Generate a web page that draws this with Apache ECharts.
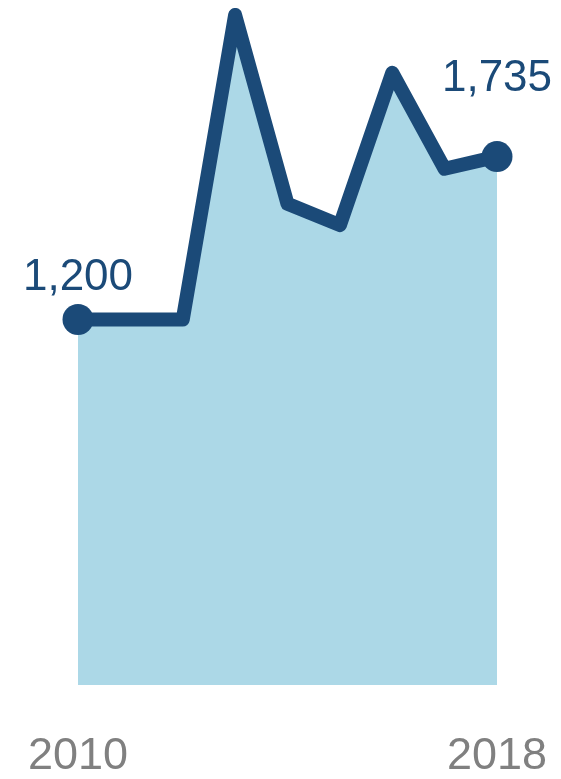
<!DOCTYPE html>
<html>
<head>
<meta charset="utf-8">
<script src="https://cdn.jsdelivr.net/npm/echarts@6/dist/echarts.min.js"></script>
<style>
  html, body { margin: 0; padding: 0; background: #ffffff; }
  #chart { width: 561px; height: 779px; }
</style>
</head>
<body>
<div id="chart"></div>
<script>
// Yearly values, 2010 to 2018
const years = ['2010', '2011', '2012', '2013', '2014', '2015', '2016', '2017', '2018'];
const values = [1200, 1200, 1200, 2200, 1580, 1510, 2010, 1695, 1735];
// Only the first and last year get a marker, a value label and an axis label
const labelledYears = ['2010', '2018'];

const LINE = '#1b4a78';
const FILL = '#acd8e7';

function withCommas(n) {
  return String(n).replace(/\B(?=(\d{3})+(?!\d))/g, ',');
}

const lastIdx = years.length - 1;
const seriesData = values.map(function (v, i) {
  const item = { value: v };
  if (i === 0 || i === lastIdx) {
    item.symbol = 'circle';
    item.symbolSize = 31;
    item.label = {
      show: true,
      position: 'top',
      distance: i === 0 ? 4 : 40,
      formatter: function (p) { return withCommas(p.value); }
    };
  } else {
    item.symbol = 'none';
  }
  return item;
});

const chart = echarts.init(document.getElementById('chart'), null, { renderer: 'canvas' });
chart.setOption({
  animation: false,
  backgroundColor: '#ffffff',
  grid: { left: 78, right: 64, top: 15, bottom: 90, containLabel: false },
  xAxis: {
    type: 'category',
    data: years,
    boundaryGap: false,
    axisLine: { show: false },
    axisTick: { show: false },
    splitLine: { show: false },
    axisLabel: {
      interval: 0,
      margin: 49,
      color: '#808080',
      fontFamily: 'Liberation Sans, Arial, sans-serif',
      fontSize: 45,
      formatter: function (v) { return labelledYears.indexOf(v) >= 0 ? v : ''; }
    }
  },
  yAxis: {
    type: 'value',
    min: 0,
    max: 2200,
    show: false
  },
  series: [{
    type: 'line',
    data: seriesData,
    showAllSymbol: true,
    lineStyle: { color: LINE, width: 14, join: 'round', cap: 'round' },
    itemStyle: { color: LINE },
    areaStyle: { color: FILL, opacity: 1, origin: 'start' },
    label: {
      color: LINE,
      fontFamily: 'Liberation Sans, Arial, sans-serif',
      fontSize: 44
    },
    z: 2
  }]
});
</script>
</body>
</html>
